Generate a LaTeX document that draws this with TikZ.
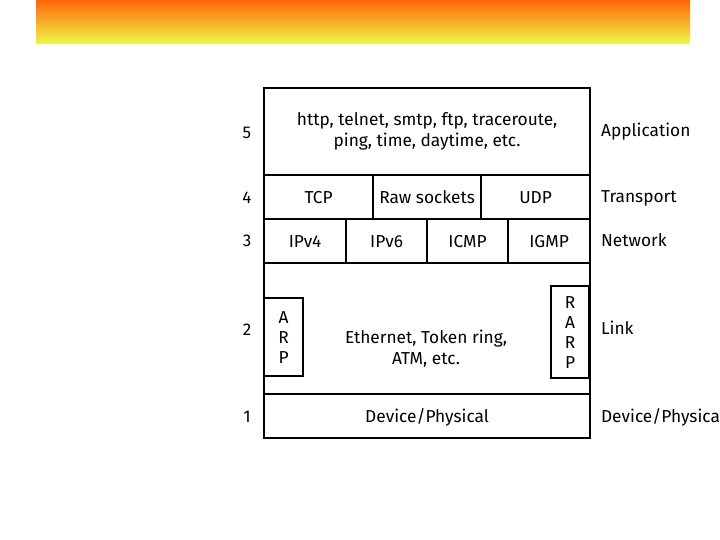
\documentclass[tikz,border=0pt]{standalone}
\usepackage{fontspec}
\setmainfont{Fira Sans}
\usetikzlibrary{positioning}

\definecolor{barorange}{RGB}{255,102,10}
\definecolor{barmid}{RGB}{248,190,55}
\definecolor{baryellow}{RGB}{238,248,72}

\tikzset{
  cell/.style={draw, rectangle, inner sep=0pt, anchor=north west, align=center},
  rowcell/.style={cell, minimum height=44pt, text height=13.5pt, text depth=1.5pt},
  layernum/.style={font=\fontsize{17}{20}\selectfont, text height=13.5pt, text depth=1.5pt},
  layername/.style={anchor=west, inner sep=0pt, text height=13.5pt, text depth=1.5pt}
}

\begin{document}
\begin{tikzpicture}[x=1pt, y=-1pt, line width=2.2pt, font=\fontsize{17.3}{21}\selectfont]
    \useasboundingbox (0,0) rectangle (720,540);

    % title bar
    \shade[top color=barorange, middle color=barmid, bottom color=baryellow]
        (36,0) rectangle (690,44);

    % layer cells
    \node[cell, minimum width=326pt, minimum height=87pt] (app) at (263,87)
        {http, telnet, smtp, ftp, traceroute,\\ping, time, daytime, etc.};

    \node[rowcell, minimum width=109pt] (tcp) at (263,174) {TCP};
    \node[rowcell, minimum width=108pt] (raw) at (372,174) {Raw sockets};
    \node[rowcell, minimum width=109pt] (udp) at (480,174) {UDP};

    \node[rowcell, minimum width=82pt] (ipv4) at (263,218) {IPv4};
    \node[rowcell, minimum width=81pt] (ipv6) at (345,218) {IPv6};
    \node[rowcell, minimum width=81pt] (icmp) at (426,218) {ICMP};
    \node[rowcell, minimum width=82pt] (igmp) at (507,218) {IGMP};

    \node[cell, minimum width=326pt, minimum height=131pt] (link) at (263,262) {};
    \node[align=center] (eth) at (426,349) {Ethernet, Token ring,\\ATM, etc.};
    \node[cell, minimum width=39pt, minimum height=78pt, font=\fontsize{17.3}{20}\selectfont] (arp) at (263,297) {A\\R\\P};
    \node[cell, minimum width=38pt, minimum height=92pt, font=\fontsize{17.3}{20}\selectfont] (rarp) at (550,285) {R\\A\\R\\P};

    \node[rowcell, minimum width=326pt] (phys) at (263,393) {Device/Physical};

    % layer numbers
    \node[layernum] (n5) at (247,133) {5};
    \node[layernum] (n4) at (247,198) {4};
    \node[layernum] (n3) at (247,241) {3};
    \node[layernum] (n2) at (247,329) {2};
    \node[layernum] (n1) at (247,416) {1};

    % layer names
    \node[layername] (lapp) at (600,131) {Application};
    \node[layername] (ltra) at (600,197) {Transport};
    \node[layername] (lnet) at (600,241) {Network};
    \node[layername] (llnk) at (600,328) {Link};
    \node[layername] (ldev) at (600,416) {Device/Physical};
\end{tikzpicture}
\end{document}
